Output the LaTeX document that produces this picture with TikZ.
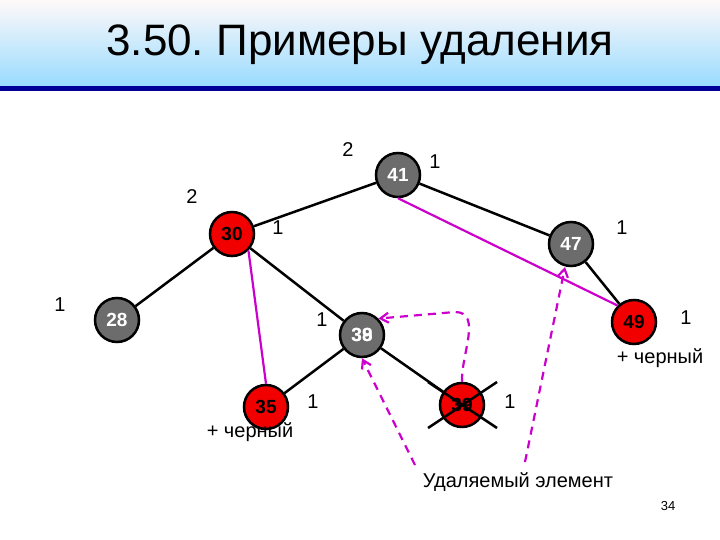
\documentclass[tikz,border=0pt]{standalone}
\usepackage{fontspec}
\setmainfont{Liberation Sans}
\usetikzlibrary{arrows.meta}
\definecolor{mag}{RGB}{204,0,204}
\begin{document}
\begin{tikzpicture}[x=1pt,y=-1pt,
  nd/.style={circle,draw=black,line width=2.5pt,minimum size=44pt,inner sep=0pt,font=\bfseries\fontsize{19}{19}\selectfont},
  gr/.style={nd,fill=gray!85!black,text=white},
  rd/.style={nd,fill=red!95!black,text=black},
  ed/.style={line width=2.5pt},
  mg/.style={draw=mag,line width=2.2pt},
  md/.style={mg,dash pattern=on 8pt off 6pt,-{Straight Barb[length=8pt,width=10pt]}},
  lb/.style={font=\fontsize{20}{20}\selectfont}]
\useasboundingbox (0,0) rectangle (720,540);
\shade[top color=white!90!pink,bottom color=blue!35!cyan!40] (0,0) rectangle (720,86);
\fill[blue!60!black] (0,86) rectangle (720,91);
\node (title) at (360,45) {\fontsize{44}{44}\selectfont 3.50.~Примеры удаления};
\node[gr] (n41) at (398,175) {41};
\node[rd] (n30) at (232,234) {30};
\node[gr] (n47) at (571,244) {47};
\node[gr] (n28) at (117,320) {28};
\node[gr] (n38) at (362,335) {38};
\node at (n38) {\bfseries\fontsize{19}{19}\selectfont\color{white}39};
\node[rd] (n49) at (634,322) {49};
\node[rd] (n35) at (266,407) {35};
\node[rd] (n39) at (462,405) {39};
\draw[ed] (n41)--(n30); \draw[ed] (n41)--(n47);
\draw[ed] (n30)--(n28); \draw[ed] (n30)--(n38);
\draw[ed] (n47)--(n49); \draw[ed] (n38)--(n35); \draw[ed] (n38)--(n39);
\coordinate (x1) at (428,382); \coordinate (x2) at (497,428);
\coordinate (x3) at (428,428); \coordinate (x4) at (497,382);
\draw[ed] (x1)--(x2); \draw[ed] (x3)--(x4);
\draw[mg] (n30.south east) -- (n35.north);
\draw[mg] (n41.south) -- (n49.north west);
\node[font=\fontsize{20}{20}\selectfont] (del) at (518,482) {Удаляемый элемент};
\coordinate (d1) at (415,465); \coordinate (d2) at (525,462); \coordinate (t47) at (565,267);
\draw[md] (d1) -- (n38.south);
\draw[md] (d2) -- (t47);
\draw[md] (n39.north) to[out=92,in=0] (455,312) -- (n38.north east);
\node[lb] at (348,150) {2}; \node[lb] at (435,162) {1};
\node[lb] at (192,197) {2}; \node[lb] at (278,228) {1};
\node[lb] at (622,228) {1}; \node[lb] at (60,305) {1};
\node[lb] at (322,320) {1}; \node[lb] at (686,318) {1};
\node[lb] at (313,402) {1}; \node[lb] at (510,402) {1};
\node[lb] at (660,358) {+ черный};
\node[lb] at (250,432) {+ черный};
\node[font=\fontsize{13}{13}\selectfont] at (668,506) {34};
\end{tikzpicture}
\end{document}
